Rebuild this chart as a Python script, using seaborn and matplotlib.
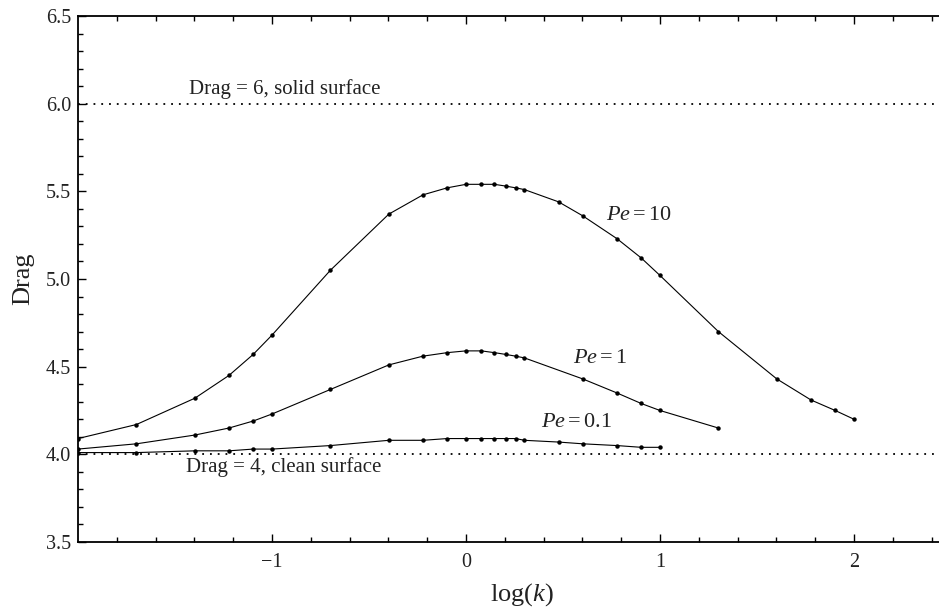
import numpy as np
import pandas as pd
import matplotlib
matplotlib.use("Agg")
import matplotlib.pyplot as plt
import seaborn as sns

# k values sampled in the computation (plotted as log10 k)
k_pe10 = [0.01, 0.02, 0.04, 0.06, 0.08, 0.1, 0.2, 0.4, 0.6, 0.8, 1.0, 1.2, 1.4,
          1.6, 1.8, 2.0, 3.0, 4.0, 6.0, 8.0, 10, 20, 40, 60, 80, 100]
drag_pe10 = [4.09, 4.17, 4.32, 4.45, 4.57, 4.68, 5.05, 5.37, 5.48, 5.52, 5.54, 5.54,
             5.54, 5.53, 5.52, 5.51, 5.44, 5.36, 5.23, 5.12, 5.02, 4.70, 4.43, 4.31,
             4.25, 4.20]

k_pe1 = [0.01, 0.02, 0.04, 0.06, 0.08, 0.1, 0.2, 0.4, 0.6, 0.8, 1.0, 1.2, 1.4,
         1.6, 1.8, 2.0, 4.0, 6.0, 8.0, 10, 20]
drag_pe1 = [4.03, 4.06, 4.11, 4.15, 4.19, 4.23, 4.37, 4.51, 4.56, 4.58, 4.59, 4.59,
            4.58, 4.57, 4.56, 4.55, 4.43, 4.35, 4.29, 4.25, 4.15]

k_pe01 = [0.01, 0.02, 0.04, 0.06, 0.08, 0.1, 0.2, 0.4, 0.6, 0.8, 1.0, 1.2, 1.4,
          1.6, 1.8, 2.0, 3.0, 4.0, 6.0, 8.0, 10]
drag_pe01 = [4.01, 4.01, 4.02, 4.02, 4.03, 4.03, 4.05, 4.08, 4.08, 4.09, 4.09, 4.09,
             4.09, 4.09, 4.09, 4.08, 4.07, 4.06, 4.05, 4.04, 4.04]

x_ticks = [-1, 0, 1, 2]
x_tick_labels = ["\u22121", "0", "1", "2"]
y_ticks = [3.5, 4.0, 4.5, 5.0, 5.5, 6.0, 6.5]

sns.set_style("ticks")
plt.rcParams["font.family"] = ["Liberation Serif", "DejaVu Serif"]
plt.rcParams["mathtext.fontset"] = "custom"
plt.rcParams["mathtext.rm"] = "Liberation Serif"
plt.rcParams["mathtext.it"] = "Liberation Serif:italic"

fig = plt.figure(figsize=(9.39, 6.11), dpi=100)
ax = fig.add_axes([78 / 939, 69 / 611, 861 / 939, 526 / 611])

for k, d in [(k_pe10, drag_pe10), (k_pe1, drag_pe1), (k_pe01, drag_pe01)]:
    df = pd.DataFrame({"logk": np.log10(k), "drag": d})
    sns.lineplot(data=df, x="logk", y="drag", ax=ax, color="black", linewidth=0.8,
                 marker="o", markersize=3.2, markeredgewidth=0, markerfacecolor="black")

# limiting cases
ax.axhline(6.0, color="black", linewidth=1.3, linestyle=(0, (1, 3.3)))
ax.axhline(4.0, color="black", linewidth=1.3, linestyle=(0, (1, 3.3)))

txt = "#222222"
ax.text(-1.43, 6.085, "Drag = 6, solid surface", fontsize=15, color=txt, va="center")
ax.text(-1.445, 3.925, "Drag = 4, clean surface", fontsize=15, color=txt, va="center")
ax.text(0.89, 5.36, r"$Pe = 10$", fontsize=16, color=txt, ha="center", va="center")
ax.text(0.69, 4.545, r"$Pe = 1$", fontsize=16, color=txt, ha="center", va="center")
ax.text(0.57, 4.18, r"$Pe = 0.1$", fontsize=16, color=txt, ha="center", va="center")

ax.set_xlim(-2, 2.438)
ax.set_ylim(3.5, 6.5)
ax.set_xticks(x_ticks)
ax.set_xticklabels(x_tick_labels)
ax.set_yticks(y_ticks)
ax.set_yticklabels([f"{v:.1f}" for v in y_ticks])
ax.set_xticks(np.arange(-1.8, 2.45, 0.2), minor=True)
ax.set_yticks(np.arange(3.6, 6.45, 0.1), minor=True)
ax.tick_params(which="both", direction="in", top=True, right=False, colors="black",
               labelcolor=txt, labelsize=14.5, width=1.0)
ax.tick_params(which="major", length=6)
ax.tick_params(which="minor", length=3.5)
ax.tick_params(axis="x", pad=8)
ax.tick_params(axis="y", pad=5)
for side in ["left", "bottom", "top"]:
    ax.spines[side].set_linewidth(1.3)
    ax.spines[side].set_color("black")
ax.spines["right"].set_visible(False)

ax.set_xlabel(r"log($k$)", fontsize=19, color=txt)
ax.xaxis.set_label_coords(0.516, -0.075)
ax.set_ylabel("Drag", fontsize=19, color=txt, labelpad=8)

fig.savefig("out.png", dpi=100, facecolor="white")
